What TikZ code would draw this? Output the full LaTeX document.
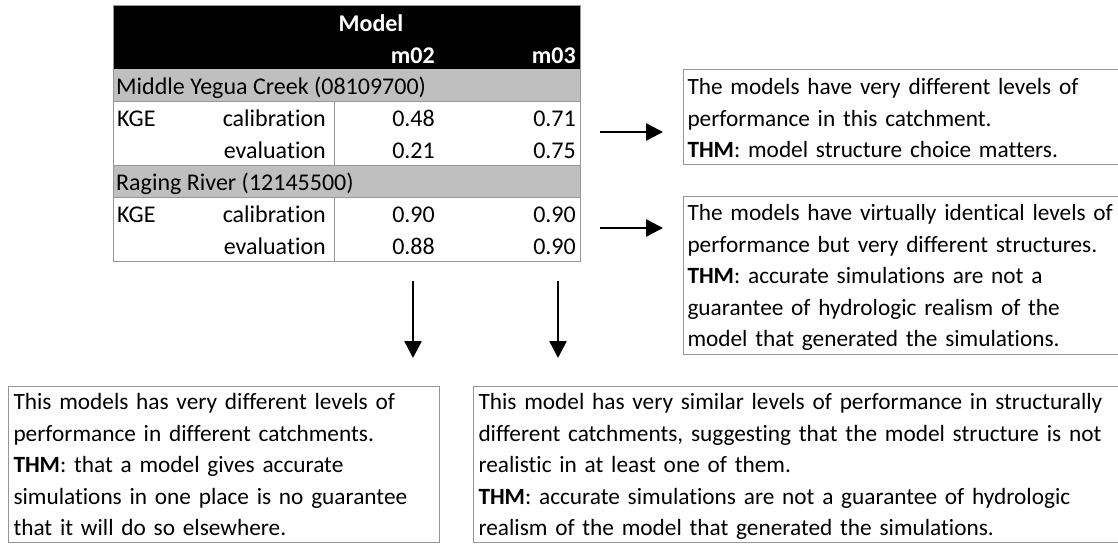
\documentclass[tikz,border=0pt]{standalone}
\usepackage{fontspec}
\setmainfont{Carlito}[RawFeature=-liga]
\usetikzlibrary{arrows.meta}
\definecolor{rowgray}{RGB}{191,191,191}
\definecolor{linegray}{RGB}{150,150,150}
\tikzset{
  cell/.style={inner sep=0pt, font=\fontsize{24}{28}\selectfont},
  head/.style={inner sep=0pt, text=white, font=\fontsize{24}{28}\selectfont\bfseries},
  note/.style={draw=linegray, line width=1pt, anchor=north west, align=left,
    inner xsep=4pt, inner ysep=3pt, text height=22pt, font=\fontsize{23.3}{31.5}\selectfont},
  arr/.style={line width=2.5pt, -{Triangle[length=17pt,width=17pt]}}
}

\begin{document}
\begin{tikzpicture}[x=1pt,y=-1pt]
\useasboundingbox (0,0) rectangle (1118,544);

% table
\fill (113,5) rectangle (580,69);
\fill[rowgray] (113,69) rectangle (580,101);
\fill[rowgray] (113,165) rectangle (580,197);
\draw[linegray] (113,5) rectangle (580,261);
\draw[linegray] (113,101)--(580,101);
\draw[linegray] (113,165)--(580,165);
\draw[linegray] (113,197)--(580,197);
\draw[linegray] (334,101)--(334,165);
\draw[linegray] (334,197)--(334,261);

\node[head, anchor=base] (model) at (371,31) {Model};
\node[head, anchor=base east] (m02) at (435,63) {m02};
\node[head, anchor=base east] (m03) at (576,63) {m03};

\node[cell, anchor=base west] (creek) at (116,94) {Middle Yegua Creek (08109700)};
\node[cell, anchor=base west] (kgecreek) at (117,126) {KGE};
\node[cell, anchor=base east] (calcreek) at (326,126) {calibration};
\node[cell, anchor=base east] (evcreek) at (326,158) {evaluation};
\node[cell, anchor=base east] (calcreektwo) at (435,126) {0.48};
\node[cell, anchor=base east] (calcreekthree) at (576,126) {0.71};
\node[cell, anchor=base east] (evcreektwo) at (435,158) {0.21};
\node[cell, anchor=base east] (evcreekthree) at (576,158) {0.75};

\node[cell, anchor=base west] (river) at (116,190) {Raging River (12145500)};
\node[cell, anchor=base west] (kgeriver) at (117,222) {KGE};
\node[cell, anchor=base east] (calriver) at (326,222) {calibration};
\node[cell, anchor=base east] (evriver) at (326,254) {evaluation};
\node[cell, anchor=base east] (calrivertwo) at (435,222) {0.90};
\node[cell, anchor=base east] (calriverthree) at (576,222) {0.90};
\node[cell, anchor=base east] (evrivertwo) at (435,254) {0.88};
\node[cell, anchor=base east] (evriverthree) at (576,254) {0.90};

% notes
\node[note, text width=440pt, text depth=67pt] (catchnote) at (683,69)
  {The models have very different levels of\\
   performance in this catchment.\\
   \textbf{THM}: model structure choice matters.};
\node[note, text width=440pt, text height=21pt, text depth=131pt] (rivernote) at (683,196)
  {The models have virtually identical levels of\\
   performance but very different structures.\\
   \textbf{THM}: accurate simulations are not a\\
   guarantee of hydrologic realism of the\\
   model that generated the simulations.};
\node[note, inner xsep=5pt, inner ysep=1pt, text width=421pt, text depth=132pt] (twonote) at (8,386)
  {This models has very different levels of\\
   performance in different catchments.\\
   \textbf{THM}: that a model gives accurate\\
   simulations in one place is no guarantee\\
   that it will do so elsewhere.};
\node[note, inner xsep=5pt, inner ysep=1pt, text width=660pt, text depth=132pt] (threenote) at (473,386)
  {This model has very similar levels of performance in structurally\\
   different catchments, suggesting that the model structure is not\\
   realistic in at least one of them.\\
   \textbf{THM}: accurate simulations are not a guarantee of hydrologic\\
   realism of the model that generated the simulations.};

% arrows
\coordinate (creekend) at (600,132);
\coordinate (catchtip) at (663,132);
\coordinate (riverend) at (600,228);
\coordinate (rivertip) at (663,228);
\coordinate (twoend) at (413,281);
\coordinate (twotip) at (413,358);
\coordinate (threeend) at (558,281);
\coordinate (threetip) at (558,358);
\draw[arr] (creekend)--(catchtip);
\draw[arr] (riverend)--(rivertip);
\draw[arr] (twoend)--(twotip);
\draw[arr] (threeend)--(threetip);

\end{tikzpicture}
\end{document}
